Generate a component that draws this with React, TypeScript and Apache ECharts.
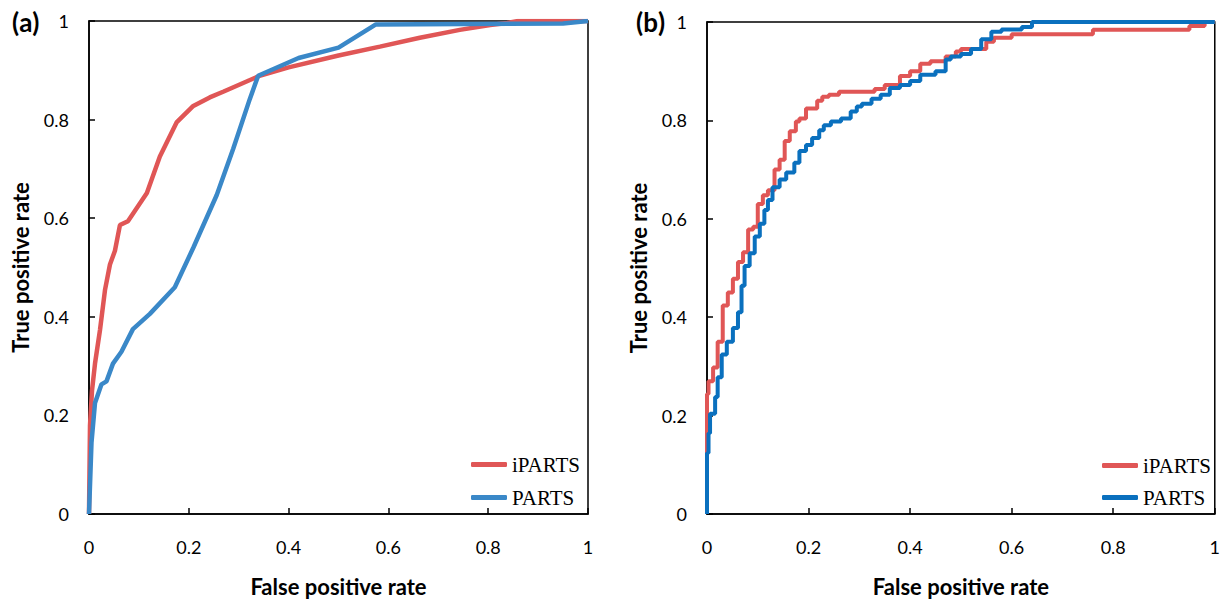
import React, { useEffect, useRef } from "react";
import * as echarts from "echarts";

const xTicks = [0, 0.2, 0.4, 0.6, 0.8, 1];

const iPartsA: [number, number][] = [
  [0, 0], [0.002, 0.18], [0.006, 0.25], [0.012, 0.305], [0.022, 0.373], [0.032, 0.454],
  [0.042, 0.506], [0.052, 0.534], [0.062, 0.586], [0.078, 0.594], [0.116, 0.651],
  [0.142, 0.725], [0.176, 0.795], [0.208, 0.827], [0.242, 0.845], [0.27, 0.857],
  [0.34, 0.888], [0.4, 0.906], [0.5, 0.93], [0.583, 0.948], [0.663, 0.966],
  [0.743, 0.982], [0.804, 0.992], [0.838, 0.996], [0.86, 1], [1, 1],
];

const partsA: [number, number][] = [
  [0, 0], [0.005, 0.145], [0.012, 0.225], [0.025, 0.263], [0.035, 0.269], [0.048, 0.305],
  [0.065, 0.329], [0.088, 0.375], [0.122, 0.406], [0.172, 0.46], [0.209, 0.54],
  [0.256, 0.647], [0.289, 0.741], [0.322, 0.841], [0.339, 0.889], [0.42, 0.925],
  [0.5, 0.946], [0.575, 0.993], [0.95, 0.995], [1, 1],
];

const iPartsB: [number, number][] = [
  [0, 0], [0, 0.138], [0.003, 0.244], [0.012, 0.27], [0.021, 0.298], [0.031, 0.35],
  [0.041, 0.424], [0.051, 0.45], [0.061, 0.478], [0.071, 0.512], [0.081, 0.532],
  [0.091, 0.578], [0.1, 0.584], [0.11, 0.63], [0.12, 0.648], [0.133, 0.658],
  [0.143, 0.7], [0.153, 0.72], [0.163, 0.758], [0.175, 0.778], [0.182, 0.798],
  [0.195, 0.804], [0.205, 0.824], [0.217, 0.824], [0.227, 0.84], [0.24, 0.848],
  [0.26, 0.852], [0.28, 0.858], [0.33, 0.858], [0.35, 0.864], [0.38, 0.872],
  [0.4, 0.89], [0.42, 0.9], [0.44, 0.915], [0.47, 0.92], [0.49, 0.93], [0.5, 0.94],
  [0.55, 0.945], [0.565, 0.96], [0.6, 0.968], [0.65, 0.975], [0.76, 0.975],
  [0.77, 0.984], [0.95, 0.984], [0.96, 0.992], [0.98, 0.992], [1, 1],
];

const partsB: [number, number][] = [
  [0, 0], [0, 0.1], [0.003, 0.124], [0.006, 0.164], [0.016, 0.204], [0.021, 0.238],
  [0.029, 0.278], [0.039, 0.324], [0.051, 0.35], [0.061, 0.378], [0.068, 0.41],
  [0.074, 0.464], [0.084, 0.504], [0.094, 0.53], [0.104, 0.564], [0.113, 0.59],
  [0.12, 0.618], [0.129, 0.638], [0.143, 0.664], [0.156, 0.68], [0.172, 0.694],
  [0.182, 0.714], [0.195, 0.738], [0.207, 0.75], [0.221, 0.764], [0.23, 0.78],
  [0.244, 0.79], [0.264, 0.798], [0.283, 0.804], [0.295, 0.818], [0.305, 0.828],
  [0.324, 0.834], [0.342, 0.844], [0.36, 0.852], [0.38, 0.866], [0.4, 0.872],
  [0.42, 0.88], [0.45, 0.893], [0.47, 0.9], [0.48, 0.924], [0.5, 0.93], [0.52, 0.935],
  [0.54, 0.945], [0.56, 0.965], [0.58, 0.98], [0.62, 0.985], [0.64, 0.99],
  [0.655, 1], [1, 1],
];

const RED = "#E05656";
const BLUE_A = "#3A88C8";
const BLUE_B = "#0A70BE";

const tickFont = "Lato, 'Open Sans', sans-serif";

function xAxis(gridIndex: number) {
  return {
    type: "value",
    gridIndex,
    min: 0,
    max: 1,
    interval: 0.2,
    name: "False positive rate",
    nameLocation: "middle",
    nameGap: 61,
    nameTextStyle: { fontFamily: tickFont, fontWeight: "bold", fontSize: 22, color: "#000" },
    axisLine: { show: true, lineStyle: { color: "#000", width: 1.5 } },
    axisTick: { show: true, inside: true, length: 6, lineStyle: { color: "#000", width: 1.5 } },
    axisLabel: { margin: 24, fontFamily: tickFont, fontSize: 18, color: "#000" },
    splitLine: { show: false },
  };
}

function yAxis(gridIndex: number) {
  return {
    type: "value",
    gridIndex,
    min: 0,
    max: 1,
    interval: 0.2,
    name: "True positive rate",
    nameLocation: "middle",
    nameGap: 58,
    nameTextStyle: { fontFamily: tickFont, fontWeight: "bold", fontSize: 22, color: "#000" },
    axisLine: { show: true, lineStyle: { color: "#000", width: 1.5 } },
    axisTick: { show: true, inside: true, length: 6, lineStyle: { color: "#000", width: 1.5 } },
    axisLabel: { margin: 20, fontFamily: tickFont, fontSize: 18, color: "#000" },
    splitLine: { show: false },
  };
}

export default function App() {
  const ref = useRef<HTMLDivElement>(null);
  useEffect(() => {
    if (!ref.current) return;
    const chart = echarts.init(ref.current, null, { renderer: "svg" });
    const legendText = { fontFamily: "'Liberation Serif', 'Times New Roman', serif", fontSize: 21, color: "#000" };
    const rich = {
      p: { fontFamily: tickFont, fontSize: 26, color: "#000" },
      b: { fontFamily: tickFont, fontSize: 26, fontWeight: "bold", color: "#000" },
    };
    chart.setOption({
      animation: false,
      backgroundColor: "#fff",
      title: [
        { text: "{p|(}{b|a}{p|)}", left: 7, top: 4, textStyle: { rich } },
        { text: "{p|(}{b|b}{p|)}", left: 631, top: 4, textStyle: { rich } },
      ],
      legend: [
        {
          orient: "vertical",
          left: 466,
          top: 449,
          icon: "roundRect",
          itemWidth: 36,
          itemHeight: 5,
          itemGap: 12,
          textStyle: legendText,
          data: [
            { name: "iPARTS", itemStyle: { color: RED } },
            { name: "PARTS", itemStyle: { color: BLUE_A } },
          ],
          selectedMode: false,
        },
        {
          orient: "vertical",
          left: 1097,
          top: 450,
          icon: "roundRect",
          itemWidth: 36,
          itemHeight: 5,
          itemGap: 11,
          textStyle: legendText,
          data: [
            { name: "iPARTS", itemStyle: { color: RED } },
            { name: "PARTS", itemStyle: { color: BLUE_B } },
          ],
          selectedMode: false,
        },
      ],
      grid: [
        { left: 89, top: 21, width: 499, height: 498, show: true, borderColor: "#000", borderWidth: 1.5, backgroundColor: "transparent" },
        { left: 707, top: 22, width: 512, height: 500, show: true, borderColor: "#000", borderWidth: 1.5, backgroundColor: "transparent" },
      ],
      xAxis: [xAxis(0), xAxis(1)],
      yAxis: [yAxis(0), yAxis(1)],
      series: [
        {
          name: "iPARTS", type: "line", xAxisIndex: 0, yAxisIndex: 0, data: iPartsA,
          showSymbol: false, symbol: "none", smooth: false,
          lineStyle: { color: RED, width: 4.5 }, itemStyle: { color: RED },
        },
        {
          name: "PARTS", type: "line", xAxisIndex: 0, yAxisIndex: 0, data: partsA,
          showSymbol: false, symbol: "none",
          lineStyle: { color: BLUE_A, width: 4.5 }, itemStyle: { color: BLUE_A },
        },
        {
          name: "iPARTS", type: "line", xAxisIndex: 1, yAxisIndex: 1, data: iPartsB,
          showSymbol: false, symbol: "none", step: "start",
          lineStyle: { color: RED, width: 4 }, itemStyle: { color: RED },
        },
        {
          name: "PARTS", type: "line", xAxisIndex: 1, yAxisIndex: 1, data: partsB,
          showSymbol: false, symbol: "none", step: "start",
          lineStyle: { color: BLUE_B, width: 4 }, itemStyle: { color: BLUE_B },
        },
      ],
    });
    return () => chart.dispose();
  }, []);
  return (
    <div
      ref={ref}
      style={{ position: "fixed", left: 0, top: 0, width: 1223, height: 602, background: "#fff" }}
    />
  );
}
